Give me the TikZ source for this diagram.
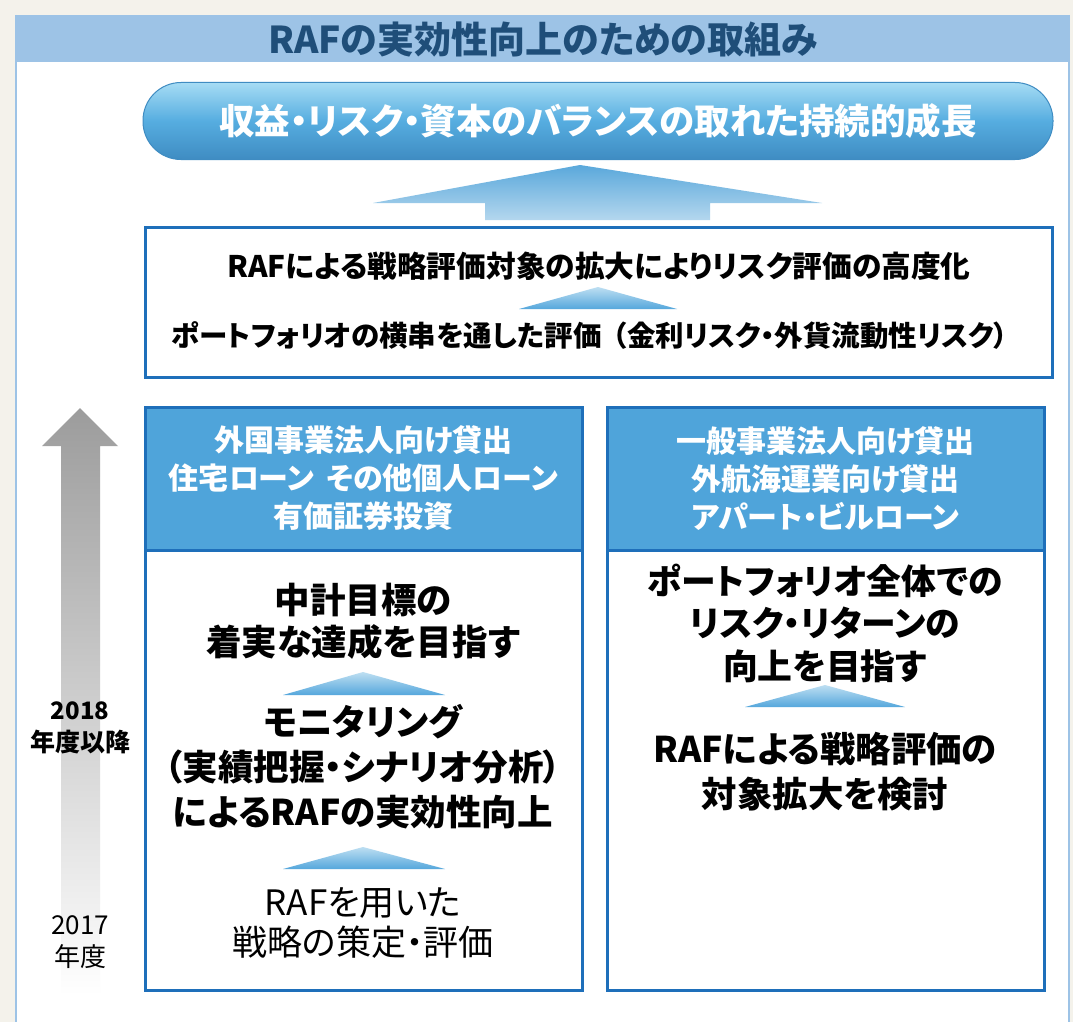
\documentclass[tikz,border=0pt]{standalone}
\usepackage{fontspec}
\setmainfont{Noto Sans CJK JP}[RawFeature=+palt]
\definecolor{bgout}{HTML}{F4F2EB}
\definecolor{band}{HTML}{9DC3E6}
\definecolor{titletxt}{HTML}{1F4E79}
\definecolor{boxline}{HTML}{1E6FBA}
\definecolor{hdr}{HTML}{4FA4DA}
\definecolor{pillA}{HTML}{A6DCF4}
\definecolor{pillB}{HTML}{56ADE0}
\definecolor{pillC}{HTML}{3F8CC2}
\definecolor{triTop}{HTML}{BEDFF2}
\definecolor{triBot}{HTML}{55A7DC}
\definecolor{bigTop}{HTML}{5AA8DB}
\definecolor{bigBot}{HTML}{B4D7EE}
\definecolor{greyTop}{HTML}{9C9C9C}
\tikzset{
  hdrbox/.style={fill=hdr, draw=boxline, line width=3pt, minimum width=437pt, minimum height=143pt,
    text=white, align=center, font=\fontsize{30}{38}\selectfont\bfseries},
  bodybox/.style={draw=boxline, line width=3pt, minimum width=437pt, minimum height=440pt},
  bodytxt/.style={align=center, inner sep=0pt, font=\fontsize{35.5}{42}\selectfont\bfseries},
  uptri/.style={top color=triTop, bottom color=triBot},
}
\begin{document}
\begin{tikzpicture}[x=1pt,y=-1pt]
\useasboundingbox (0,0) rectangle (1073,1022);
\fill[bgout] (0,0) rectangle (1073,1022);
\fill[white] (15,15) rectangle (1070,1022);
\draw[band, line width=2pt] (16,15) -- (16,1022);
\draw[band, line width=1.5pt] (1069,15) -- (1069,1022);
\fill[band] (15,15) rectangle (1070,62);
\node[text=titletxt, font=\fontsize{37}{37}\selectfont\bfseries] (title) at (543,39) {RAFの実効性向上のための取組み};

% goal pill
\node[top color=pillA, bottom color=pillC, middle color=pillB, draw=pillC, line width=1pt,
  rounded corners=38pt, minimum width=910pt, minimum height=77pt, text=white,
  font=\fontsize{35.5}{35.5}\selectfont\bfseries] (goal) at (598,121) {収益・リスク・資本のバランスの取れた持続的成長};

% big arrow
\shade[top color=bigTop, bottom color=bigBot] (580,165) -- (822,203) -- (710,203) -- (710,220) -- (485,220) -- (485,203) -- (373,203) -- cycle;

% middle box
\node[draw=boxline, line width=3pt, minimum width=907pt, minimum height=150pt] (mid) at (598.5,302) {};
\node[font=\fontsize{29.7}{29.7}\selectfont\bfseries] (mid1) at (599,266) {RAFによる戦略評価対象の拡大によりリスク評価の高度化};
\shade[uptri] (598,287) -- (677,309) -- (519,309) -- cycle;
\node[font=\fontsize{28.5}{28.5}\selectfont\bfseries] (mid2) at (590,336) {ポートフォリオの横串を通した評価\hspace{0.4em}（金利リスク・外貨流動性リスク）};

% grey time arrow
\shade[top color=greyTop, bottom color=white] (80,408) -- (118,446) -- (100,446) -- (100,995) -- (61,995) -- (61,446) -- (42,446) -- cycle;
\node[font=\fontsize{24}{24}\selectfont\bfseries] (y18) at (80,711) {2018};
\node[font=\fontsize{25}{25}\selectfont\bfseries] (y18b) at (80,742) {年度以降};
\node[font=\fontsize{26}{26}\selectfont] (y17) at (80,925) {2017};
\node[font=\fontsize{26}{26}\selectfont] (y17b) at (80,957) {年度};

% left column
\node[bodybox] (lbody) at (363.5,770) {};
\node[hdrbox] (lhead) at (363.5,478.5) {外国事業法人向け貸出\\住宅ローン\hspace{0.4em}その他個人ローン\\有価証券投資};
\node[bodytxt] (l1) at (363,621) {中計目標の\\着実な達成を目指す};
\shade[uptri] (363,672) -- (445,695) -- (283,695) -- cycle;
\node[bodytxt, font=\fontsize{35.5}{45}\selectfont\bfseries] (l2) at (363,767) {モニタリング\\（実績把握・シナリオ分析）\\によるRAFの実効性向上};
\shade[uptri] (363,847) -- (445,869) -- (283,869) -- cycle;
\node[bodytxt, font=\fontsize{35}{40}\selectfont] (l3) at (363,923) {RAFを用いた\\戦略の策定・評価};

% right column
\node[bodybox] (rbody) at (825.5,770) {};
\node[hdrbox] (rhead) at (825.5,478.5) {一般事業法人向け貸出\\外航海運業向け貸出\\アパート・ビルローン};
\node[bodytxt, font=\fontsize{34.8}{42.5}\selectfont\bfseries] (r1) at (825,623) {ポートフォリオ全体での\\リスク・リターンの\\向上を目指す};
\shade[uptri] (825,685) -- (905,707) -- (745,707) -- cycle;
\node[bodytxt, font=\fontsize{35.4}{45}\selectfont\bfseries] (r2) at (825,772) {RAFによる戦略評価の\\対象拡大を検討};
\end{tikzpicture}
\end{document}
